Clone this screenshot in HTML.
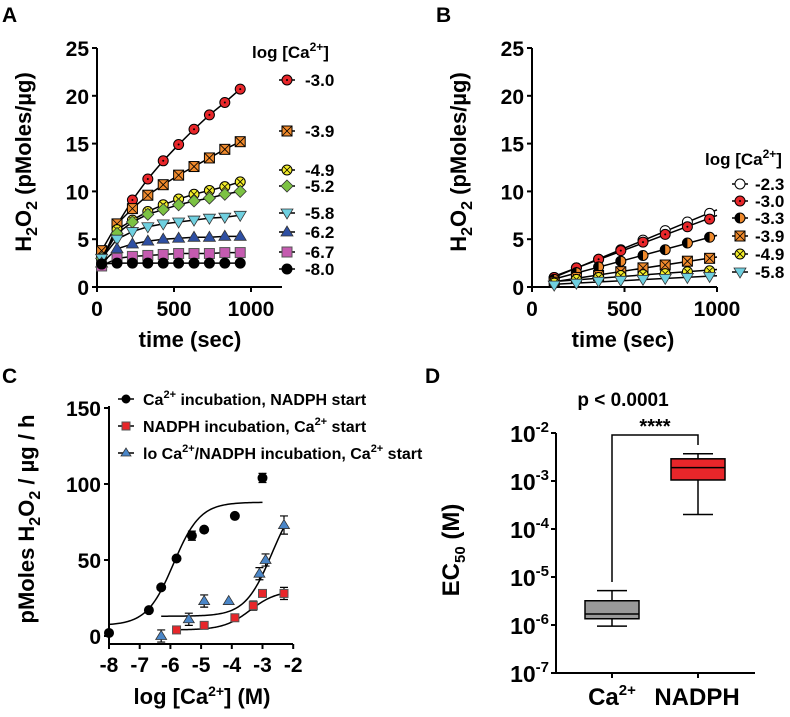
<!DOCTYPE html>
<html><head><meta charset="utf-8"><style>
html,body{margin:0;padding:0;background:#fff;}
svg text{font-family:"Liberation Sans",Arial,sans-serif;font-weight:bold;fill:#000;}
</style></head><body>
<svg id="fig" width="790" height="712" viewBox="0 0 790 712" xmlns="http://www.w3.org/2000/svg"></svg>
<script>
// ---------- Panel A data ----------
const timesA = [30,130,230,330,430,530,630,730,830,930];
const labelsA = ["-3.0","-3.9","-4.9","-5.2","-5.8","-6.2","-6.7","-8.0"];
const sA1 = [2.5,6.5,9.1,11.3,13.2,14.9,16.5,18.0,19.3,20.7];
const sA2 = [3.8,6.6,8.2,9.6,10.7,11.7,12.6,13.5,14.4,15.2];
const sA3 = [3.0,6.0,7.0,7.9,8.6,9.2,9.7,10.1,10.5,11.0];
const sA4 = [3.0,5.6,6.8,7.6,8.1,8.6,9.0,9.3,9.7,10.0];
const sA5 = [3.0,5.0,5.8,6.3,6.6,6.8,7.0,7.2,7.3,7.5];
const sA6 = [2.5,4.0,4.5,4.8,5.0,5.1,5.2,5.2,5.3,5.3];
const sA7 = [2.2,3.0,3.2,3.3,3.4,3.5,3.5,3.5,3.6,3.6];
const sA8 = [2.4,2.5,2.5,2.5,2.5,2.5,2.5,2.5,2.5,2.5];
const yTicksA = [0,5,10,15,20,25];
const xTicksA = [0,500,1000];
// ---------- Panel B data ----------
const timesB = [120,240,360,480,600,720,840,960];
const labelsB = ["-2.3","-3.0","-3.3","-3.9","-4.9","-5.8"];
const sB1 = [1.0,2.0,2.9,3.9,4.9,5.9,6.8,7.7];
const sB2 = [1.0,2.0,2.9,3.8,4.7,5.5,6.3,7.1];
const sB3 = [0.8,1.5,2.1,2.7,3.3,3.9,4.6,5.2];
const sB4 = [0.5,1.0,1.2,1.6,2.0,2.3,2.7,3.0];
const sB5 = [0.4,0.8,1.0,1.2,1.3,1.4,1.6,1.7];
const sB6 = [0.2,0.4,0.6,0.7,0.8,0.9,1.0,1.1];
// ---------- Panel C data ----------
const cBlackX = [-8,-6.7,-6.3,-5.8,-5.3,-4.9,-3.9,-3.0];
const cBlackY = [2,17,32,51,66,70,79,104];
const cBlackErr = [0,0,0,0,3,0,0,3];
const cRedX = [-5.8,-4.9,-3.9,-3.3,-3.0,-2.3];
const cRedY = [4,7,12,20,28,28];
const cRedErr = [0,0,0,3,0,4];
const cBlueX = [-6.3,-5.4,-4.9,-4.1,-3.1,-2.9,-2.3];
const cBlueY = [0,11,23,23,41,50,73];
const cBlueErr = [4,4,4,0,4,4,6];
const fitBlack = [7,88,-5.9,1.0,-8,-3.0];   // bottom, top, logEC50, hill, xmin, xmax
const fitRed = [4,30,-3.4,1.0,-5.8,-2.3];
const fitBlue = [13,95,-2.7,1.0,-6.3,-2.3];
const xTicksC = [-8,-7,-6,-5,-4,-3,-2];
const yTicksC = [0,50,100,150];
// ---------- Panel D data ----------
const catsD = ["Ca","NADPH"];
const boxMin = [0.95e-6,2.0e-4];
const boxQ1 = [1.35e-6,1.05e-3];
const boxMed = [1.7e-6,1.9e-3];
const boxQ3 = [3.2e-6,2.9e-3];
const boxMax = [5.2e-6,3.7e-3];
const yExpD = [-2,-3,-4,-5,-6,-7];

const svg = document.getElementById('fig');
const NS = 'http://www.w3.org/2000/svg';
function el(tag, attrs, parent){
  const e = document.createElementNS(NS, tag);
  for (const k in attrs) e.setAttribute(k, attrs[k]);
  (parent||svg).appendChild(e);
  return e;
}
function txt(x,y,s,size,anchor,parent){
  const t = el('text',{x:x,y:y,'font-size':size,'text-anchor':anchor||'start'},parent);
  t.innerHTML = s;
  return t;
}
function marker(g,x,y,shape,fill,r){
  r = r||5;
  let m;
  if(shape==='circle'||shape==='circdot'||shape==='circx'||shape==='half'){
    m = el('circle',{cx:x,cy:y,r:r,fill:fill,stroke:'#000','stroke-width':1},g);
    if(shape==='circdot') el('circle',{cx:x,cy:y,r:1,fill:'#000'},g);
    if(shape==='circx'){el('path',{d:`M${x-3},${y-3}L${x+3},${y+3}M${x-3},${y+3}L${x+3},${y-3}`,stroke:'#000','stroke-width':0.8},g);}
    if(shape==='half'){el('path',{d:`M${x},${y-r}A${r},${r} 0 0 0 ${x},${y+r}Z`,fill:'#000'},g);}
  } else if(shape==='square'||shape==='sqx'){
    m = el('rect',{x:x-r,y:y-r,width:2*r,height:2*r,fill:fill,stroke:shape==='sqx'?'#000':'#555','stroke-width':1},g);
    if(shape==='sqx'){el('path',{d:`M${x-r},${y-r}L${x+r},${y+r}M${x-r},${y+r}L${x+r},${y-r}`,stroke:'#000','stroke-width':0.8},g);}
  } else if(shape==='diamond'){
    m = el('path',{d:`M${x},${y-r-1}L${x+r+1},${y}L${x},${y+r+1}L${x-r-1},${y}Z`,fill:fill,stroke:'#333','stroke-width':0.8},g);
  } else if(shape==='tri'){
    m = el('path',{d:`M${x},${y-r-1}L${x+r+1},${y+r-1}L${x-r-1},${y+r-1}Z`,fill:fill,stroke:'#333','stroke-width':0.8},g);
  } else if(shape==='tridown'){
    m = el('path',{d:`M${x},${y+r+1}L${x+r+1},${y-r+1}L${x-r-1},${y-r+1}Z`,fill:fill,stroke:'#333','stroke-width':0.8},g);
  }
  return m;
}
function yTitle(x,y,html,size){
  const t = el('text',{x:0,y:0,'font-size':size,'text-anchor':'middle',transform:`translate(${x},${y}) rotate(-90)`});
  t.innerHTML = html; return t;
}
const H2O2 = sz => 'H<tspan font-size="'+sz+'" dy="6">2</tspan><tspan dy="-6">O</tspan><tspan font-size="'+sz+'" dy="6">2</tspan><tspan dy="-6">';

// ===== Panel A =====
(function(){
  const g = el('g',{});
  
  
  const X = v => 97 + v*0.154, Y = v => 287 - v*9.56;
  txt(2,22,'A',21,'start',g);
  el('path',{d:`M97,48V287H282`,stroke:'#000','stroke-width':2,fill:'none'},g);
  yTicksA.forEach(v=>{el('line',{x1:92,x2:97,y1:Y(v),y2:Y(v),stroke:'#000','stroke-width':2},g);txt(89,Y(v)+8,String(v),21,'end',g);});
  xTicksA.forEach(v=>{el('line',{x1:X(v),x2:X(v),y1:287,y2:292,stroke:'#000','stroke-width':2},g);txt(X(v),316,String(v),21,'middle',g);});
  const tt = txt(190,347,'time (sec)',22,'middle',g);
  
  const yt = yTitle(31,162,H2O2(16)+' (pMoles/µg)</tspan>',22);
  
  const series = [sA1,sA2,sA3,sA4,sA5,sA6,sA7,sA8];
  const shapes = ['circdot','sqx','circx','diamond','tridown','tri','square','circle'];
  const fills = ['#e8262a','#f08a2c','#f2ec2a','#7cc243','#6fd0e0','#2e4fa3','#c55bb0','#000'];
  const legY = [80,131,170,186,213,232,252,269];
  series.forEach((s,i)=>{
    const sg = el('g',{},g);
    
    
    el('polyline',{points:timesA.map((t,j)=>X(t)+','+Y(s[j])).join(' '),fill:'none',stroke:'#000','stroke-width':1.5},sg);
    timesA.forEach((t,j)=>marker(sg,X(t),Y(s[j]),shapes[i],fills[i],5));
    el('line',{x1:279,x2:295,y1:legY[i],y2:legY[i],stroke:'#000','stroke-width':1.5},g);
    marker(g,287,legY[i],shapes[i],fills[i],5);
    const lt = txt(305,legY[i]+6,labelsA[i],17,'start',g);
    
  });
  txt(252,58,'log [Ca<tspan font-size="12" dy="-7">2+</tspan><tspan dy="7">]</tspan>',17,'start',g);
})();

// ===== Panel B =====
(function(){
  const g = el('g',{});
  
  
  const X = v => 532 + v*0.185, Y = v => 287 - v*9.56;
  txt(436,22,'B',21,'start',g);
  el('path',{d:`M532,48V287H717`,stroke:'#000','stroke-width':2,fill:'none'},g);
  yTicksA.forEach(v=>{el('line',{x1:527,x2:532,y1:Y(v),y2:Y(v),stroke:'#000','stroke-width':2},g);txt(524,Y(v)+8,String(v),21,'end',g);});
  xTicksA.forEach(v=>{el('line',{x1:X(v),x2:X(v),y1:287,y2:292,stroke:'#000','stroke-width':2},g);txt(X(v),316,String(v),21,'middle',g);});
  const tt = txt(623,347,'time (sec)',22,'middle',g);
  
  const yt = yTitle(466,162,H2O2(16)+' (pMoles/µg)</tspan>',22);
  
  const series = [sB1,sB2,sB3,sB4,sB5,sB6];
  const shapes = ['circle','circdot','half','sqx','circx','tridown'];
  const fills = ['#fff','#e8262a','#f08a2c','#f08a2c','#f2ec2a','#6fd0e0'];
  const legY = [184,201,218,236,254,272];
  series.forEach((s,i)=>{
    const sg = el('g',{},g);
    
    
    const n=s.length; let mx=0,my=0; timesB.forEach((t,j)=>{mx+=t;my+=s[j];}); mx/=n;my/=n;
    let num=0,den=0; timesB.forEach((t,j)=>{num+=(t-mx)*(s[j]-my);den+=(t-mx)*(t-mx);});
    const sl=num/den, b=my-sl*mx;
    el('line',{x1:X(110),y1:Y(Math.max(0,sl*110+b)),x2:X(1000),y2:Y(sl*1000+b),stroke:'#000','stroke-width':1.5},sg);
    timesB.forEach((t,j)=>marker(sg,X(t),Y(s[j]),shapes[i],fills[i],5));
    el('line',{x1:732,x2:748,y1:legY[i],y2:legY[i],stroke:'#000','stroke-width':1.5},g);
    marker(g,740,legY[i],shapes[i],fills[i],5);
    const lt = txt(755,legY[i]+6,labelsB[i],17,'start',g);
    
  });
  txt(705,165,'log [Ca<tspan font-size="12" dy="-7">2+</tspan><tspan dy="7">]</tspan>',17,'start',g);
})();

// ===== Panel C =====
(function(){
  const g = el('g',{});
  
  
  const X = v => 109 + (v+8)*30.7, Y = v => 636 - v*1.52;
  txt(2,383,'C',21,'start',g);
  el('path',{d:`M109,406V644H293`,stroke:'#000','stroke-width':2,fill:'none'},g);
  yTicksC.forEach(v=>{el('line',{x1:104,x2:109,y1:Y(v),y2:Y(v),stroke:'#000','stroke-width':2},g);txt(101,Y(v)+8,String(v),21,'end',g);});
  xTicksC.forEach(v=>{el('line',{x1:X(v),x2:X(v),y1:644,y2:649,stroke:'#000','stroke-width':2},g);txt(X(v),672,String(v),21,'middle',g);});
  const tt = txt(202,704,'log [Ca<tspan font-size="14" dy="-8">2+</tspan><tspan dy="8">] (M)</tspan>',22,'middle',g);
  
  const yt = yTitle(34,519,'pMoles '+H2O2(16)+' / µg / h</tspan>',22);
  
  const sets = [[cBlackX,cBlackY,cBlackErr,fitBlack,'circle','#000'],[cRedX,cRedY,cRedErr,fitRed,'square','#e8262a'],[cBlueX,cBlueY,cBlueErr,fitBlue,'tri','#4a86c8']];
  const names=['ca-incubation-nadph-start','nadph-incubation-ca-start','lo-ca-nadph-incubation-ca-start'];
  sets.forEach((st,i)=>{
    const [xs,ys,es,f,sh,col]=st;
    const sg = el('g',{},g);
    
    
    const pts=[]; for(let k=0;k<=80;k++){const x=f[4]+(f[5]-f[4])*k/80; const y=f[0]+(f[1]-f[0])/(1+Math.pow(10,(f[2]-x)*f[3])); pts.push(X(x)+','+Y(y));}
    el('polyline',{points:pts.join(' '),fill:'none',stroke:'#000','stroke-width':1.5},sg);
    xs.forEach((x,j)=>{
      if(es[j]>0){el('path',{d:`M${X(x)},${Y(ys[j]-es[j])}V${Y(ys[j]+es[j])}M${X(x)-4},${Y(ys[j]-es[j])}h8M${X(x)-4},${Y(ys[j]+es[j])}h8`,stroke:'#000','stroke-width':1.2,fill:'none'},sg);}
      marker(sg,X(x),Y(ys[j]),sh,col,sh==='square'?4:4.5);
    });
  });
  const legY=[399,426,453];
  const legT=['Ca<tspan font-size="11" dy="-7">2+</tspan><tspan dy="7"> incubation, NADPH start</tspan>','NADPH incubation, Ca<tspan font-size="11" dy="-7">2+</tspan><tspan dy="7"> start</tspan>','lo Ca<tspan font-size="11" dy="-7">2+</tspan><tspan dy="7">/NADPH incubation, Ca</tspan><tspan font-size="11" dy="-7">2+</tspan><tspan dy="7"> start</tspan>'];
  const legS=[['circle','#000'],['square','#e8262a'],['tri','#4a86c8']];
  legY.forEach((y,i)=>{
    el('line',{x1:118,x2:134,y1:y,y2:y,stroke:'#000','stroke-width':1.5},g);
    marker(g,126,y,legS[i][0],legS[i][1],4);
    const lt=txt(143,y+6,legT[i],16,'start',g);
    
  });
})();

// ===== Panel D =====
(function(){
  const g = el('g',{});
  
  
  const Y = v => 433 + (-2 - Math.log10(v))*48;
  const X = i => 612 + i*86;
  txt(425,383,'D',21,'start',g);
  el('path',{d:`M556,433V673H755`,stroke:'#000','stroke-width':2,fill:'none'},g);
  yExpD.forEach(e=>{const y=433+(-2-e)*48; el('line',{x1:551,x2:556,y1:y,y2:y,stroke:'#000','stroke-width':2},g);
    txt(549,y+9,'10<tspan font-size="15" dy="-10">'+e+'</tspan>',23,'end',g);});
  catsD.forEach((c,i)=>{el('line',{x1:X(i),x2:X(i),y1:673,y2:678,stroke:'#000','stroke-width':2},g);});
  const l1=txt(X(0),705,'Ca<tspan font-size="15" dy="-10">2+</tspan>',24,'middle',g); 
  const l2=txt(X(1)-1,705,'NADPH',24,'middle',g); 
  const yt = yTitle(459,550,'EC<tspan font-size="15" dy="6">50</tspan><tspan dy="-6"> (M)</tspan>',24);
  
  const cols=['#999','#e8262a'];
  catsD.forEach((c,i)=>{
    const bg=el('g',{},g);
    
    
    const x=X(i);
    el('path',{d:`M${x},${Y(boxMax[i])}V${Y(boxMin[i])}M${x-15},${Y(boxMax[i])}h30M${x-15},${Y(boxMin[i])}h30`,stroke:'#000','stroke-width':1.5},bg);
    el('rect',{x:x-27,y:Y(boxQ3[i]),width:54,height:Y(boxQ1[i])-Y(boxQ3[i]),fill:cols[i],stroke:'#000','stroke-width':1.5},bg);
    el('line',{x1:x-27,x2:x+27,y1:Y(boxMed[i]),y2:Y(boxMed[i]),stroke:'#000','stroke-width':1.5},bg);
  });
  const br=el('path',{d:`M${X(0)},582V435H${X(1)}V445`,stroke:'#000','stroke-width':1.5,fill:'none'},g);
  
  txt(655,433,'****',20,'middle',g);
  const p=txt(623,406,'p &lt; 0.0001',19,'middle',g); 
})();
</script>
</body></html>
